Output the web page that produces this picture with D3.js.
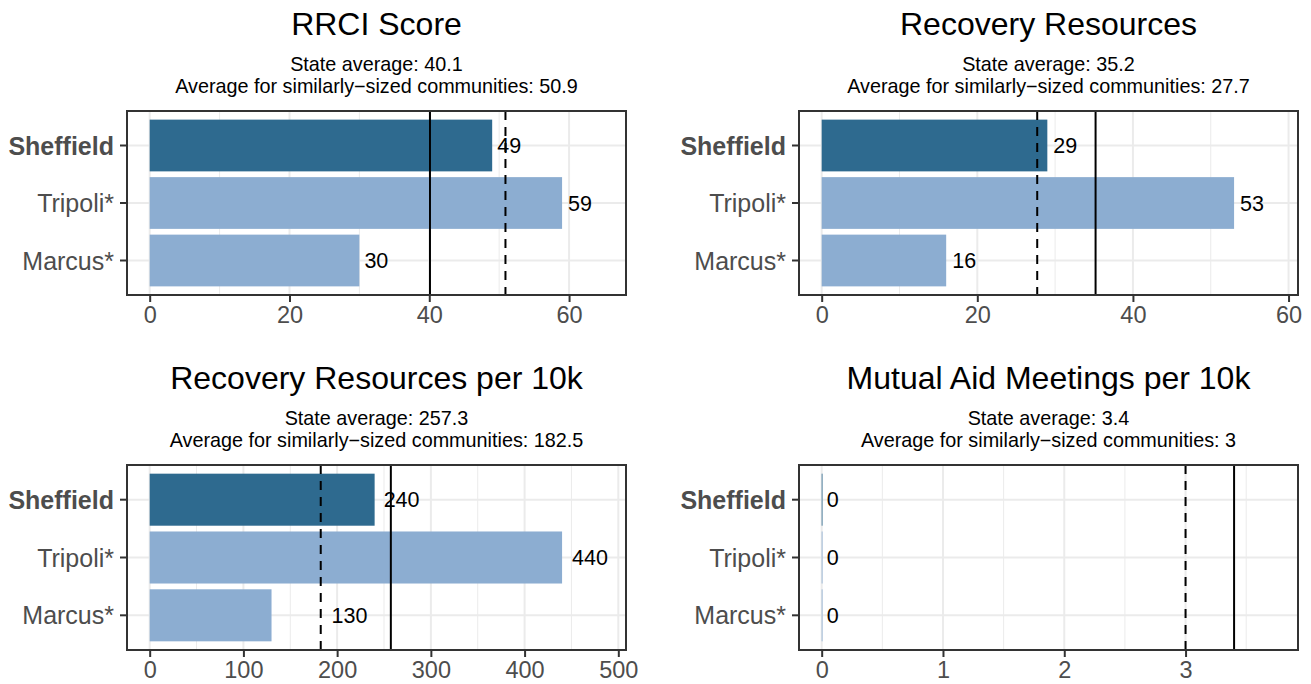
<!DOCTYPE html>
<html>
<head>
<meta charset="utf-8">
<script src="https://cdn.jsdelivr.net/npm/d3@7"></script>
<style>
  body { margin: 0; background: #fff; }
  svg { display: block; font-family: "Liberation Sans", Arial, sans-serif; }
</style>
</head>
<body>
<div id="chart"></div>
<script>
// data
const cities = ["Sheffield", "Tripoli*", "Marcus*"];
const panelTitles = ["RRCI Score", "Recovery Resources", "Recovery Resources per 10k", "Mutual Aid Meetings per 10k"];
const rrciScore = [49, 59, 30];
const recoveryResources = [29, 53, 16];
const resourcesPer10k = [240, 440, 130];
const meetingsPer10k = [0, 0, 0];
const stateAverage = [40.1, 35.2, 257.3, 3.4];
const peerAverage = [50.9, 27.7, 182.5, 3];
const xTickValues = [
  [0, 20, 40, 60],
  [0, 20, 40, 60],
  [0, 100, 200, 300, 400, 500],
  [0, 1, 2, 3]
];

const seriesList = [rrciScore, recoveryResources, resourcesPer10k, meetingsPer10k];

// layout
const W = 1311, H = 684;
const panelBoxes = [
  {x0: 127, x1: 626, y0: 111, y1: 295},
  {x0: 799, x1: 1298, y0: 111, y1: 295},
  {x0: 127, x1: 626, y0: 465, y1: 650},
  {x0: 799, x1: 1298, y0: 465, y1: 650}
];
// extra label push (px) where the original labels got shoved off the bars
const labelShift = [[5, 6, 5], [6, 6, 6], [9, 10, 60], [5, 5, 5]];

const darkBlue = "#2e6a8f", lightBlue = "#8cadd1";
const gridCol = "#ebebeb", frameCol = "#333333", axisTextCol = "#4d4d4d";

const svg = d3.select("#chart").append("svg")
  .attr("width", W)
  .attr("height", H);

function drawPanel(i) {
  const box = panelBoxes[i];
  const values = seriesList[i];
  const top = d3.max([...values, stateAverage[i], peerAverage[i]]) * 1.1;
  const pad = top * 0.05;

  const x = d3.scaleLinear()
    .domain([-pad, top + pad])
    .range([box.x0, box.x1]);

  const y = d3.scaleBand()
    .domain(cities)
    .range([box.y0, box.y1])
    .paddingInner(0.1)
    .paddingOuter(0.15);

  const g = svg.append("g");
  const cx = (box.x0 + box.x1) / 2;

  // titles
  g.append("text")
    .attr("x", cx).attr("y", box.y0 - 76)
    .attr("text-anchor", "middle")
    .attr("font-size", 32)
    .attr("fill", "#000")
    .text(panelTitles[i]);
  g.append("text")
    .attr("x", cx).attr("y", box.y0 - 40)
    .attr("text-anchor", "middle")
    .attr("font-size", 19.8)
    .text("State average: " + stateAverage[i]);
  g.append("text")
    .attr("x", cx).attr("y", box.y0 - 18)
    .attr("text-anchor", "middle")
    .attr("font-size", 19.8)
    .text("Average for similarly\u2212sized communities: " + peerAverage[i]);

  // grid
  const ticks = xTickValues[i];
  const step = ticks[1] - ticks[0];
  const minor = ticks.map(t => t + step / 2).filter(t => t < top + pad);

  g.append("g").selectAll("line.minor")
    .data(minor)
    .join("line")
    .attr("x1", d => x(d)).attr("x2", d => x(d))
    .attr("y1", box.y0).attr("y2", box.y1)
    .attr("stroke", gridCol).attr("stroke-width", 1);

  g.append("g").selectAll("line.major")
    .data(ticks)
    .join("line")
    .attr("x1", d => x(d)).attr("x2", d => x(d))
    .attr("y1", box.y0).attr("y2", box.y1)
    .attr("stroke", gridCol).attr("stroke-width", 2);

  g.append("g").selectAll("line.hgrid")
    .data(cities)
    .join("line")
    .attr("x1", box.x0).attr("x2", box.x1)
    .attr("y1", d => y(d) + y.bandwidth() / 2)
    .attr("y2", d => y(d) + y.bandwidth() / 2)
    .attr("stroke", gridCol).attr("stroke-width", 2);

  // bars
  g.append("g").selectAll("rect")
    .data(values)
    .join("rect")
    .attr("x", x(0))
    .attr("y", (d, j) => y(cities[j]))
    .attr("width", d => Math.max(x(d) - x(0), 0.8))
    .attr("height", y.bandwidth())
    .attr("fill", (d, j) => j == 0 ? darkBlue : lightBlue);

  // reference lines
  g.append("line")
    .attr("x1", x(stateAverage[i])).attr("x2", x(stateAverage[i]))
    .attr("y1", box.y0).attr("y2", box.y1)
    .attr("stroke", "#000").attr("stroke-width", 2);
  g.append("line")
    .attr("x1", x(peerAverage[i])).attr("x2", x(peerAverage[i]))
    .attr("y1", box.y0).attr("y2", box.y1)
    .attr("stroke", "#000").attr("stroke-width", 2)
    .attr("stroke-dasharray", "9,7");

  // value labels
  g.append("g").selectAll("text")
    .data(values)
    .join("text")
    .attr("x", (d, j) => x(d) + labelShift[i][j])
    .attr("y", (d, j) => y(cities[j]) + y.bandwidth() / 2)
    .attr("dy", "0.36em")
    .attr("font-size", 21.5)
    .attr("fill", "#000")
    .text(d => d);

  // frame
  g.append("rect")
    .attr("x", box.x0).attr("y", box.y0)
    .attr("width", box.x1 - box.x0).attr("height", box.y1 - box.y0)
    .attr("fill", "none")
    .attr("stroke", frameCol).attr("stroke-width", 2);

  // axes
  const xAxis = g.append("g")
    .attr("transform", `translate(0, ${box.y1})`)
    .call(d3.axisBottom(x).tickValues(ticks).tickSize(7).tickPadding(4).tickFormat(d3.format("")));
  const yAxis = g.append("g")
    .attr("transform", `translate(${box.x0}, 0)`)
    .call(d3.axisLeft(y).tickSize(7).tickPadding(6));

  [xAxis, yAxis].forEach(a => {
    a.select(".domain").remove();
    a.selectAll(".tick line").attr("stroke", frameCol).attr("stroke-width", 2);
    a.selectAll(".tick text")
      .attr("fill", axisTextCol)
      .attr("font-family", "Liberation Sans, Arial, sans-serif");
  });
  xAxis.selectAll(".tick text").attr("font-size", 23.5);
  yAxis.selectAll(".tick text")
    .attr("font-size", 25)
    .attr("dy", "0.36em")
    .attr("font-weight", d => d == cities[0] ? "bold" : "normal");
}

for (let i = 0; i < 4; i++) {
  drawPanel(i);
}
</script>
</body>
</html>
